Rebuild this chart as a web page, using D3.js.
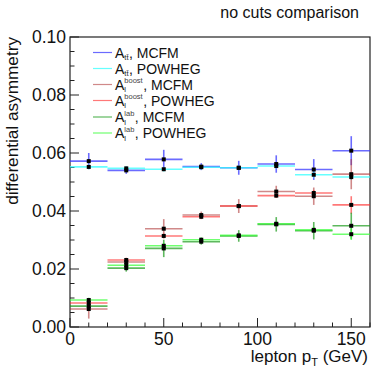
<!DOCTYPE html>
<html><head><meta charset="utf-8">
<script src="https://cdn.jsdelivr.net/npm/d3@7"></script>
<style>body{margin:0;background:#fff}svg{display:block}text{font-family:"Liberation Sans",Arial,sans-serif}</style>
</head><body><svg id="c" width="389" height="373"></svg>
<script>
const binCenters = [10, 30, 50, 70, 90, 110, 130, 150];
const binHalfWidth = 10;
const ttMCFM = [0.0572, 0.0540, 0.0578, 0.0553, 0.0549, 0.0562, 0.0543, 0.0608];
const ttMCFMErr = [0.0028, 0.0012, 0.0033, 0.0012, 0.0024, 0.0030, 0.0036, 0.0050];
const ttPOWHEG = [0.0552, 0.0547, 0.0544, 0.0551, 0.0549, 0.0555, 0.0525, 0.0517];
const ttPOWHEGErr = [0.0008, 0.0008, 0.0008, 0.0008, 0.0008, 0.0008, 0.0010, 0.0010];
const boostMCFM = [0.0062, 0.0224, 0.0339, 0.0386, 0.0417, 0.0467, 0.0451, 0.0527];
const boostMCFMErr = [0.0033, 0.0012, 0.0033, 0.0012, 0.0024, 0.0020, 0.0030, 0.0052];
const boostPOWHEG = [0.0083, 0.0231, 0.0314, 0.0380, 0.0417, 0.0453, 0.0462, 0.0421];
const boostPOWHEGErr = [0.0010, 0.0008, 0.0008, 0.0008, 0.0008, 0.0008, 0.0010, 0.0030];
const labMCFM = [0.0072, 0.0203, 0.0271, 0.0294, 0.0314, 0.0354, 0.0332, 0.0349];
const labMCFMErr = [0.0012, 0.0012, 0.0030, 0.0010, 0.0020, 0.0025, 0.0030, 0.0045];
const labPOWHEG = [0.0093, 0.0213, 0.0280, 0.0301, 0.0316, 0.0356, 0.0335, 0.0320];
const labPOWHEGErr = [0.0008, 0.0008, 0.0010, 0.0008, 0.0008, 0.0008, 0.0010, 0.0020];
const yTicks = [0.00, 0.02, 0.04, 0.06, 0.08, 0.10];
const xTicks = [0, 50, 100, 150];

const series = [
  {v: ttMCFM, e: ttMCFMErr, color: "#3a3aff", op: 0.75, main: "A", sub: "tt\u0304", sup: "", tail: ", MCFM"},
  {v: ttPOWHEG, e: ttPOWHEGErr, color: "#33ffff", op: 0.75, main: "A", sub: "tt\u0304", sup: "", tail: ", POWHEG"},
  {v: boostMCFM, e: boostMCFMErr, color: "#b03a3a", op: 0.6, main: "A", sub: "l", sup: "boost", tail: ", MCFM"},
  {v: boostPOWHEG, e: boostPOWHEGErr, color: "#ff3030", op: 0.65, main: "A", sub: "l", sup: "boost", tail: ", POWHEG"},
  {v: labMCFM, e: labMCFMErr, color: "#1a9a1a", op: 0.7, main: "A", sub: "l", sup: "lab", tail: ", MCFM"},
  {v: labPOWHEG, e: labPOWHEGErr, color: "#33ff33", op: 0.7, main: "A", sub: "l", sup: "lab", tail: ", POWHEG"}
];

const svg = d3.select("#c");
const L = 70, R = 370, T = 37, B = 327;
const x = d3.scaleLinear().domain([0, 160]).range([L, R]);
const y = d3.scaleLinear().domain([0, 0.10]).range([B, T]);

svg.append("rect").attr("x", L).attr("y", T).attr("width", R - L).attr("height", B - T)
  .attr("fill", "none").attr("stroke", "#222").attr("stroke-width", 1.2);

const yMinor = d3.range(0, 0.1001, 0.005);
svg.selectAll(".ym").data(yMinor).enter().append("line")
  .attr("x1", L).attr("x2", (d, i) => L + (i % 4 === 0 ? 9 : 4.5))
  .attr("y1", d => y(d)).attr("y2", d => y(d)).attr("stroke", "#222");
svg.selectAll(".yl").data(yTicks).enter().append("text")
  .attr("x", L - 4).attr("y", d => y(d) + 6).attr("text-anchor", "end")
  .attr("font-size", 17.5).attr("fill", "#111").text(d => d.toFixed(2));

const xMinor = d3.range(0, 161, 10);
svg.selectAll(".xm").data(xMinor).enter().append("line")
  .attr("x1", d => x(d)).attr("x2", d => x(d))
  .attr("y1", B).attr("y2", d => B - (d % 50 === 0 ? 9 : 4.5)).attr("stroke", "#222");
svg.selectAll(".xl").data(xTicks).enter().append("text")
  .attr("x", d => x(d)).attr("y", B + 18).attr("text-anchor", "middle")
  .attr("font-size", 17.5).attr("fill", "#111").text(d => d);

const xt = svg.append("text").attr("x", R - 2).attr("y", 362).attr("text-anchor", "end")
  .attr("font-size", 17).attr("fill", "#111");
xt.append("tspan").text("lepton p");
xt.append("tspan").attr("font-size", 11).attr("dy", 4).text("T");
xt.append("tspan").attr("dy", -4).text(" (GeV)");
svg.append("text").attr("transform", `translate(18,${T}) rotate(-90)`).attr("text-anchor", "end")
  .attr("font-size", 17.2).attr("fill", "#111").text("differential asymmetry");

svg.append("text").attr("x", 359).attr("y", 18).attr("text-anchor", "end")
  .attr("font-size", 16).attr("fill", "#111").text("no cuts comparison");

const plot = svg.append("g");
series.forEach(s => {
  const g = plot.append("g").attr("stroke", s.color).attr("stroke-opacity", s.op).attr("stroke-width", 1.6);
  binCenters.forEach((c, i) => {
    g.append("line").attr("x1", x(c - binHalfWidth)).attr("x2", x(c + binHalfWidth))
      .attr("y1", y(s.v[i])).attr("y2", y(s.v[i]));
    g.append("line").attr("x1", x(c)).attr("x2", x(c))
      .attr("y1", y(s.v[i] - s.e[i])).attr("y2", y(s.v[i] + s.e[i]));
  });
});
series.forEach(s => {
  binCenters.forEach((c, i) => {
    plot.append("rect").attr("x", x(c) - 2).attr("y", y(s.v[i]) - 2)
      .attr("width", 4).attr("height", 4).attr("fill", "#000");
  });
});

const rowsY = [52.5, 68.5, 84.5, 100.5, 117, 133];
series.forEach((s, i) => {
  const ry = rowsY[i];
  svg.append("line").attr("x1", 93).attr("x2", 112).attr("y1", ry).attr("y2", ry)
    .attr("stroke", s.color).attr("stroke-opacity", s.op).attr("stroke-width", 1.2);
  const tx = 115, base = ry + 5;
  const a = svg.append("text").attr("x", tx).attr("y", base).attr("font-size", 14).attr("fill", "#111").text(s.main);
  const aw = a.node().getComputedTextLength();
  const sub = svg.append("text").attr("x", tx + aw).attr("y", base + 2.5).attr("font-size", 7.5).attr("fill", "#222").text(s.sub);
  let w = sub.node().getComputedTextLength();
  if (s.sup) {
    const sp = svg.append("text").attr("x", tx + aw).attr("y", base - 6.5).attr("font-size", 7.5).attr("fill", "#444").text(s.sup);
    w = Math.max(w, sp.node().getComputedTextLength());
  }
  svg.append("text").attr("x", tx + aw + w + 0.5).attr("y", base).attr("font-size", 14).attr("fill", "#111").text(s.tail);
});
</script>
</body></html>
